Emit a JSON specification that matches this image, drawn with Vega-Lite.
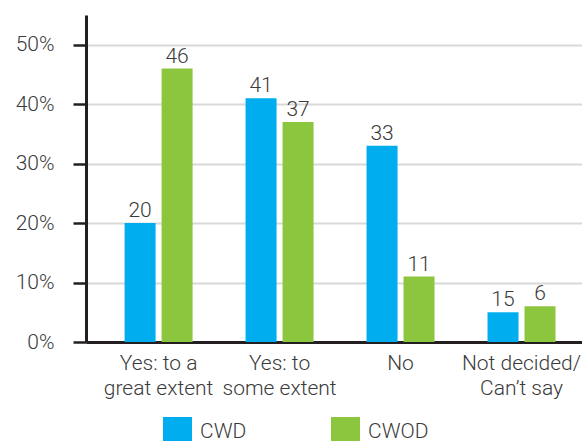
{
  "$schema": "https://vega.github.io/schema/vega-lite/v6.json",
  "autosize": {"type": "none"},
  "width": 496,
  "height": 327,
  "padding": {"left": 86, "top": 15, "right": 0, "bottom": 99},
  "background": "white",
  "config": {
    "view": {"stroke": null},
    "font": "Roboto",
    "axis": {"labelFont": "Roboto", "labelFontWeight": 300, "labelFontSize": 21, "labelColor": "#3a3a3a"},
    "legend": {"labelFont": "Roboto", "labelFontWeight": 300}
  },
  "data": {
    "values": [
      {"category": "Yes: to a|great extent", "group": "CWD", "value": 20, "label": "20"},
      {"category": "Yes: to a|great extent", "group": "CWOD", "value": 46, "label": "46"},
      {"category": "Yes: to|some extent", "group": "CWD", "value": 41, "label": "41"},
      {"category": "Yes: to|some extent", "group": "CWOD", "value": 37, "label": "37"},
      {"category": "No", "group": "CWD", "value": 33, "label": "33"},
      {"category": "No", "group": "CWOD", "value": 11, "label": "11"},
      {"category": "Not decided/|Can’t say", "group": "CWD", "value": 5, "label": "15"},
      {"category": "Not decided/|Can’t say", "group": "CWOD", "value": 6, "label": "6"}
    ]
  },
  "encoding": {
    "x": {
      "field": "category",
      "type": "nominal",
      "sort": null,
      "scale": {"paddingInner": 0, "paddingOuter": 0.05, "align": 1},
      "axis": {
        "title": null,
        "labelAngle": 0,
        "ticks": false,
        "grid": false,
        "domainColor": "#231f20",
        "domainWidth": 3,
        "labelPadding": 10,
        "labelLineHeight": 25,
        "labelExpr": "split(datum.value, '|')"
      }
    },
    "xOffset": {
      "field": "group",
      "type": "nominal",
      "scale": {"paddingInner": 0.162, "paddingOuter": 0.716}
    },
    "y": {
      "field": "value",
      "type": "quantitative",
      "scale": {"domain": [0, 55], "nice": false},
      "axis": {
        "title": null,
        "values": [0, 10, 20, 30, 40, 50],
        "labelExpr": "datum.value + '%'",
        "grid": true,
        "gridColor": "#d9d9d9",
        "gridWidth": 2,
        "domainColor": "#231f20",
        "domainWidth": 3,
        "tickColor": "#231f20",
        "tickSize": 13,
        "tickWidth": 2.5,
        "labelPadding": 19
      }
    }
  },
  "layer": [
    {
      "mark": {"type": "bar"},
      "encoding": {
        "color": {
          "field": "group",
          "type": "nominal",
          "scale": {"domain": ["CWD", "CWOD"], "range": ["#00adee", "#8cc63f"]},
          "legend": {
            "title": null,
            "orient": "none",
            "legendX": 77,
            "legendY": 402,
            "direction": "horizontal",
            "columns": 2,
            "columnPadding": 84,
            "symbolType": "square",
            "symbolSize": 841,
            "symbolStrokeWidth": 0,
            "symbolOpacity": 1,
            "labelFontSize": 21,
            "labelColor": "#3a3a3a",
            "labelOffset": 8,
            "labelBaseline": "middle",
            "padding": 0
          }
        }
      }
    },
    {
      "mark": {"type": "text", "baseline": "alphabetic", "dy": -6, "fontSize": 21, "fontWeight": 300, "color": "#3a3a3a", "font": "Roboto"},
      "encoding": {
        "text": {"field": "label"}
      }
    }
  ]
}
